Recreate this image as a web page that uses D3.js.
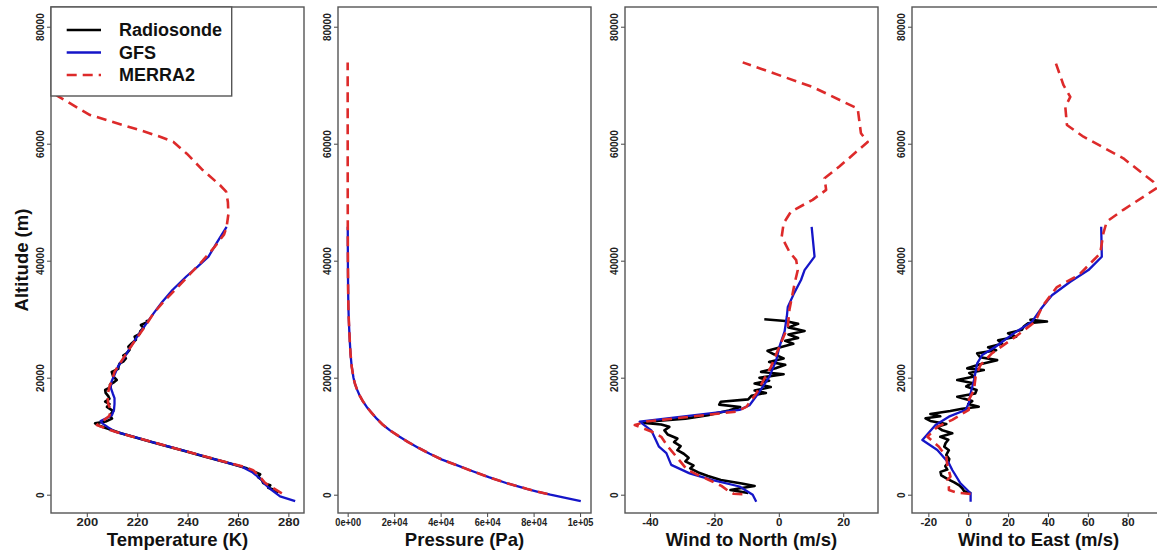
<!DOCTYPE html>
<html>
<head>
<meta charset="utf-8">
<script src="https://cdn.jsdelivr.net/npm/d3@7"></script>
<style>
  body { margin: 0; background: #fff; }
  svg { display: block; font-family: "Liberation Sans", Arial, sans-serif; }
  .tick text { font-weight: bold; font-size: 10px; fill: #222; }
  .tick line { stroke: #444; stroke-width: 1; }
  .frame { fill: none; stroke: #555; stroke-width: 1.4; }
  .axis-title { font-weight: bold; font-size: 18.5px; fill: #111; }
  .legend-label { font-weight: bold; font-size: 18px; fill: #111; }
</style>
</head>
<body>
<svg id="chart" width="1157" height="553"></svg>
<script>
// --- data: [altitude (m), value] pairs ---
const altTicks = [0, 20000, 40000, 60000, 80000];
const tempTicks = [200, 220, 240, 260, 280];
const presTicks = [0, 20000, 40000, 60000, 80000, 100000];
const presTickLabels = ["0e+00", "2e+04", "4e+04", "6e+04", "8e+04", "1e+05"];
const northTicks = [-40, -20, 0, 20];
const eastTicks = [-20, 0, 20, 40, 60, 80];

const sondeTemp = [[400, 276], [800, 274.5], [1200, 272], [1600, 272.8], [2000, 270], [2500, 269.5], [3000, 268],
  [3500, 268.8], [4000, 266], [4500, 263.5], [5500, 255.5], [6500, 247], [7500, 238.5], [8500, 230], [9500, 221.5],
  [10500, 213.5], [11200, 209], [11800, 205], [12200, 203.3], [12500, 207.5], [13000, 210], [13600, 209.2],
  [14300, 210.5], [15000, 208], [15500, 209], [15900, 207.3], [16400, 209], [16800, 208.6], [17400, 207.5],
  [17900, 207.3], [18400, 209.5], [18800, 209.2], [19300, 211], [19600, 211.9], [20200, 210.5], [21000, 209.9],
  [21500, 212.5], [21900, 212.6], [22400, 213], [22800, 214.6], [23300, 215.5], [23800, 214.5], [24200, 215.9],
  [24800, 217], [25300, 216.5], [25900, 217.9], [26500, 219.5], [27000, 219], [27500, 221], [27900, 221.2],
  [28500, 222.5], [29000, 221.5], [29500, 224], [29900, 223.8]];
const gfsTemp = [[-1100, 282.7], [-300, 276.7], [800, 273.4], [1950, 270.3], [2500, 269.5], [3900, 265.5],
  [4800, 261.5], [6000, 251.3], [7000, 243], [8000, 234.5], [9000, 226], [10000, 217.7], [10770, 211.2],
  [11500, 208.5], [12200, 206.2], [12600, 205.5], [13000, 207.5], [13600, 210], [14500, 210.8], [15500, 211],
  [16500, 211], [17300, 210.3], [18300, 209.5], [19300, 209.8], [20500, 211], [22000, 212.5], [23500, 215],
  [25000, 217], [27000, 220], [29000, 223.2], [31000, 226.5], [33000, 230], [35000, 234], [37300, 239.5],
  [39000, 244], [40700, 248.3], [43000, 251.5], [45800, 255.5]];
const merraTemp = [[240, 277.4], [1000, 274.5], [2000, 270.8], [3000, 268.8], [4200, 266], [4800, 262],
  [6000, 251.5], [7000, 243], [8000, 234.5], [9000, 226], [10000, 217.5], [11000, 209.5], [11900, 204],
  [12600, 206.5], [13500, 209], [14500, 209.5], [15500, 208.5], [16500, 208.3], [17500, 208.5], [18500, 209],
  [19500, 210], [21000, 211], [23000, 214], [25000, 217], [27000, 220.2], [29000, 223.5], [31000, 226.5],
  [33000, 230.5], [35000, 235], [37500, 240.5], [40000, 246], [42500, 251], [44500, 254.5], [45800, 255.5],
  [48000, 256.2], [50000, 256], [51800, 255.3], [52900, 252.9], [55500, 246], [58300, 239.7], [60300, 234.4],
  [61200, 229.1], [62300, 221.2], [64900, 201.3], [68000, 189], [70500, 180], [73900, 172]];

const gfsPres = [[-1100, 100300], [-500, 93200], [0, 87200], [500, 81900], [1000, 77000], [2000, 68200],
  [3000, 60700], [4000, 53800], [5000, 47200], [6000, 40600], [7000, 35300], [8000, 30500], [9000, 26000],
  [10000, 22000], [11000, 18200], [12000, 15000], [13000, 12500], [14000, 10300], [15000, 8200], [16000, 6500],
  [17000, 5100], [18000, 4000], [19000, 3100], [20000, 2500], [22000, 1700], [24000, 1250], [26000, 950],
  [28000, 700], [30000, 480], [32000, 320], [35000, 200], [38000, 120], [42000, 70], [45800, 40]];
const merraPres = [[120, 86000], [500, 81900], [1000, 77000], [2000, 68200], [3000, 60700], [4000, 53800],
  [5000, 47200], [6000, 40600], [7000, 35300], [8000, 30500], [9000, 26000], [10000, 22000], [11000, 18200],
  [12000, 15000], [13000, 12500], [14000, 10300], [15000, 8200], [16000, 6500], [17000, 5100], [18000, 4000],
  [19000, 3100], [20000, 2500], [22000, 1700], [24000, 1250], [26000, 950], [28000, 700], [30000, 480],
  [32000, 320], [35000, 200], [40000, 100], [45000, 50], [50000, 30], [55000, 18], [60000, 10], [65000, 5],
  [70000, 3], [73900, 2]];

const sondeNorth = [[300, -9.5], [800, -15.0], [1100, -12], [1500, -7.5], [1900, -11.5], [2500, -18], [3200, -22],
  [3800, -25], [4500, -27.5], [5000, -26.5], [5700, -29], [6300, -28], [7000, -29.5], [7600, -31.5], [8300, -30.5],
  [9000, -32.5], [9600, -31.5], [10300, -34.5], [11000, -35.5], [11600, -34], [12000, -36.5], [12300, -42.5],
  [12600, -38], [13000, -29], [13600, -22], [14400, -15.5], [15000, -12], [15400, -18.5], [15900, -18],
  [16300, -9.5], [16900, -8.5], [17400, -4], [17800, -7.5], [18400, -2.5], [19000, -7.5], [19500, -3],
  [20000, -6], [20600, 1.5], [21000, -5.5], [21600, -1], [22200, 2], [22700, -3], [23300, 1.5], [24000, -1.5],
  [24600, -3.5], [25200, 0.5], [25800, 4.5], [26300, 2], [26800, 6], [27400, 3], [28000, 8], [28600, 3],
  [29200, 6], [29700, 2], [30000, -4.5]];
const gfsNorth = [[-1200, -7.0], [0, -8.1], [1400, -12.2], [2500, -20.5], [3650, -27.7], [5100, -33.4],
  [7100, -34.9], [8200, -37.2], [11000, -39.6], [12500, -43.2], [14500, -12.2], [15300, -9.1], [17600, -6.0],
  [20200, -2.9], [23000, -0.8], [25300, 0.2], [27900, 1.8], [30500, 2.5], [32100, 2.8], [34500, 4.8],
  [36700, 6.9], [38400, 8.0], [40700, 11.1], [45800, 10.2]];
const merraNorth = [[100, -11.3], [150, -14], [700, -15.8], [1500, -17.8], [2600, -22], [3600, -26],
  [4300, -28.5], [6500, -31.8], [8200, -34.4], [9900, -36.5], [10800, -39.6], [11900, -44.7], [12500, -41.1],
  [14200, -13.2], [15000, -10.1], [17300, -7.0], [21900, -2.4], [25300, 0.2], [28700, 2.8], [31600, 3.3],
  [36100, 4.9], [38400, 5.9], [40100, 5.4], [41500, 3.3], [44100, 0.9], [46400, 1.5], [48400, 3.8],
  [50400, 10.5], [52100, 14.7], [54100, 14.2], [56100, 18.8], [60300, 27.6], [61800, 25.5], [66000, 24.5],
  [69700, 10.5], [73900, -11.2]];

const sondeEast = [[250, 1.5], [600, -2], [1100, -3], [1600, -4.5], [2100, -7], [2700, -10.5], [3300, -13.5],
  [3900, -13.9], [4300, -10.5], [4900, -11.5], [5500, -10], [6100, -9.5], [6800, -11], [7600, -9.7],
  [8200, -12], [8800, -11.4], [9400, -10], [9900, -14], [10500, -8.0], [11000, -13], [11600, -15.5],
  [12100, -11], [12600, -19], [13060, -21.4], [13400, -14], [13800, -19], [14300, -9], [14700, -3],
  [15040, 5.3], [15500, 0], [16000, 2], [16750, -5.5], [17300, 3.5], [17900, 4.2], [18500, -1], [19100, 2],
  [19600, -5.5], [20200, 3], [20800, 0.5], [21300, 7.8], [21600, -0.5], [22300, 6], [23000, 14.5], [23500, 6],
  [24160, 4.5], [24700, 14], [25200, 10], [25800, 17], [26400, 15], [27000, 24], [27600, 20], [28200, 27],
  [28800, 28], [29300, 30], [29600, 39.5], [29900, 31.2], [30000, 33]];
const gfsEast = [[-1200, 1.2], [240, 1.2], [1950, -3.9], [4220, -8.0], [5360, -9.7], [7640, -15.5],
  [9350, -23.0], [11900, -16.4], [13340, -9.7], [14480, -1.4], [15620, 0.3], [17330, 1.2], [19600, 2.9],
  [22460, 4.5], [23880, 7.0], [25290, 13.7], [27580, 22.8], [29580, 32.0], [32000, 37], [34100, 42.0],
  [36400, 51.2], [38400, 60.3], [40670, 67.0], [45800, 66.7]];
const merraEast = [[120, 1.2], [340, -5.5], [800, -9.7], [1400, -9.7], [2500, -10.5], [3100, -8.9],
  [5100, -10.5], [6500, -11], [8200, -14.7], [9900, -20.5], [11600, -15.5], [12800, -8.0], [14500, 0.3],
  [16200, 0.3], [17900, 2.9], [20200, 3.7], [22200, 6.2], [24200, 12.0], [27000, 23.7], [29600, 33.7],
  [32100, 37.0], [35500, 44.5], [37500, 55.3], [41250, 66.2], [44700, 67.8], [46700, 69.5], [48700, 77.8],
  [52400, 94.5], [53500, 92.8], [57500, 77.8], [61200, 57.8], [63200, 49.5], [66300, 48.7], [68000, 51.2],
  [70000, 47.8], [74000, 43.7]];

// --- layout ---
const svg = d3.select("#chart");
const plotTop = 7, plotBottom = 513, panelW = 253;
const panelLeft = [51, 338, 625, 912];

const styles = {
  sonde: { color: "#000000", width: 2.6, dash: null },
  gfs:   { color: "#1515c8", width: 2.3, dash: null },
  merra: { color: "#dd2a2a", width: 2.6, dash: "10,6" }
};

// labelStretch: horizontal stretch of the x tick labels as they appear in the figure
const panels = [
  { title: "Temperature (K)", domain: [185.8, 286.2], ticks: tempTicks, fmt: d => d, labelStretch: 1.3,
    series: [["sonde", sondeTemp], ["gfs", gfsTemp], ["merra", merraTemp]] },
  { title: "Pressure (Pa)", domain: [-4160, 104700], ticks: presTicks, fmt: (d, i) => presTickLabels[i], labelStretch: 0.92,
    series: [["gfs", gfsPres], ["merra", merraPres]] },
  { title: "Wind to North (m/s)", domain: [-47.75, 30.8], ticks: northTicks, fmt: d => d, labelStretch: 1.15,
    series: [["sonde", sondeNorth], ["gfs", gfsNorth], ["merra", merraNorth]] },
  { title: "Wind to East (m/s)", domain: [-28.2, 98.7], ticks: eastTicks, fmt: d => d, labelStretch: 1.15,
    series: [["sonde", sondeEast], ["gfs", gfsEast], ["merra", merraEast]] }
];

const y = d3.scaleLinear().domain([-3130, 83370]).range([plotBottom, plotTop]);

panels.forEach((p, k) => {
  const left = panelLeft[k];
  const x = d3.scaleLinear().domain(p.domain).range([left, left + panelW]);

  svg.append("clipPath").attr("id", "clip" + k)
    .append("rect").attr("x", left).attr("y", plotTop).attr("width", panelW).attr("height", plotBottom - plotTop);

  const line = d3.line().x(d => x(d[1])).y(d => y(d[0]));
  const g = svg.append("g").attr("clip-path", `url(#clip${k})`);
  p.series.forEach(([key, data]) => {
    const s = styles[key];
    g.append("path").datum(data)
      .attr("d", line)
      .attr("fill", "none")
      .attr("stroke", s.color)
      .attr("stroke-width", s.width)
      .attr("stroke-linejoin", "round")
      .attr("stroke-dasharray", s.dash);
  });

  // x axis
  const xa = svg.append("g").attr("transform", `translate(0,${plotBottom})`)
    .call(d3.axisBottom(x).tickValues(p.ticks).tickSize(4).tickPadding(2).tickFormat(p.fmt));
  xa.select(".domain").remove();
  xa.selectAll(".tick text").attr("transform", `scale(${p.labelStretch},1)`);

  // y axis, labels parallel to the axis
  const ya = svg.append("g").attr("transform", `translate(${left},0)`)
    .call(d3.axisLeft(y).tickValues(altTicks).tickSize(4).tickFormat(d3.format("d")));
  ya.select(".domain").remove();
  ya.selectAll(".tick text")
    .attr("x", null).attr("dy", null)
    .attr("text-anchor", "middle")
    .attr("transform", "translate(-7.5,0) rotate(-90)");

  svg.append("rect").attr("class", "frame")
    .attr("x", left).attr("y", plotTop).attr("width", panelW).attr("height", plotBottom - plotTop);

  svg.append("text").attr("class", "axis-title")
    .attr("x", left + panelW / 2).attr("y", 546)
    .attr("text-anchor", "middle").text(p.title);
});

svg.append("text").attr("class", "axis-title")
  .attr("transform", "translate(27.5,260) rotate(-90)")
  .attr("text-anchor", "middle").text("Altitude (m)");

// legend
const legendItems = [["sonde", "Radiosonde"], ["gfs", "GFS"], ["merra", "MERRA2"]];
const lg = svg.append("g");
lg.append("rect").attr("x", 51).attr("y", 7).attr("width", 180.7).attr("height", 89)
  .attr("fill", "#fff").attr("stroke", "#555").attr("stroke-width", 1.4);
legendItems.forEach(([key, label], i) => {
  const s = styles[key];
  const ry = 30 + i * 22.5;
  lg.append("line").attr("x1", 66.7).attr("x2", 101).attr("y1", ry).attr("y2", ry)
    .attr("stroke", s.color).attr("stroke-width", s.width).attr("stroke-dasharray", s.dash);
  lg.append("text").attr("class", "legend-label").attr("x", 119).attr("y", ry + 6.3).text(label);
});
</script>
</body>
</html>
